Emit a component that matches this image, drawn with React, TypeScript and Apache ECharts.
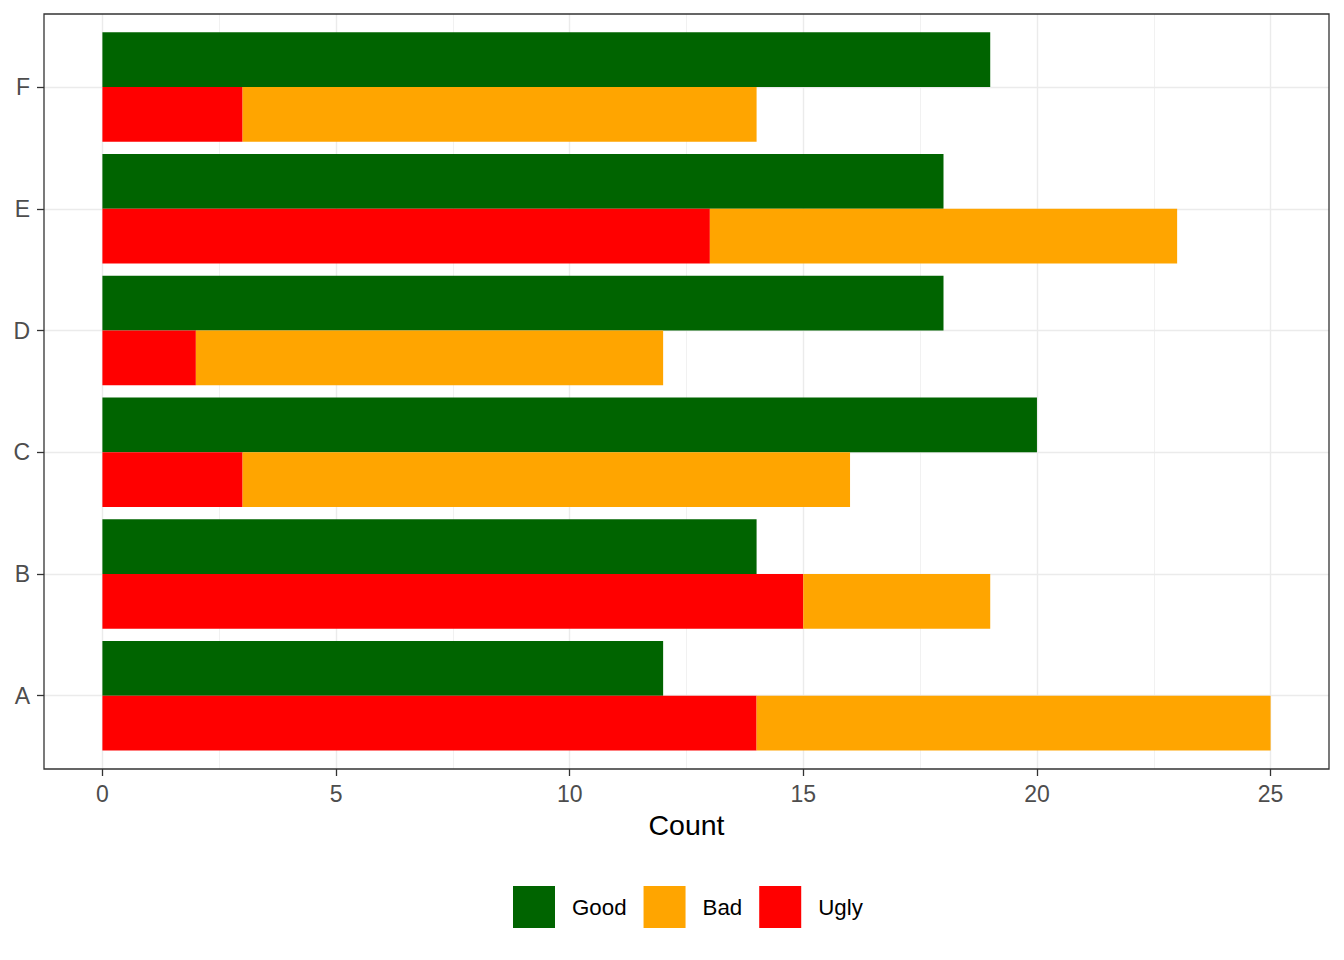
import React, { useEffect, useRef } from 'react';
import * as echarts from 'echarts';

const categories = ['A', 'B', 'C', 'D', 'E', 'F'];
const goodValues = [12, 14, 20, 18, 18, 19];
const uglyValues = [14, 15, 3, 2, 13, 3];
const badValues = [11, 4, 13, 10, 10, 11];
const majorTicks = [0, 5, 10, 15, 20, 25];
const minorTicks = [2.5, 7.5, 12.5, 17.5, 22.5];
const legendOrder = ['Good', 'Bad', 'Ugly'];

const FONT = '"Liberation Sans", Arial, Helvetica, sans-serif';
const X_MIN = -1.25;
const X_MAX = 26.25;

export default function App() {
  const ref = useRef<HTMLDivElement>(null);

  useEffect(() => {
    document.body.style.margin = '0';
    document.body.style.overflow = 'hidden';
    if (!ref.current) return;
    const chart = echarts.init(ref.current, null, { renderer: 'svg' });

    const tickLine = { color: '#333333', width: 1.3 };

    chart.setOption({
      animation: false,
      backgroundColor: '#ffffff',
      textStyle: { fontFamily: FONT },
      grid: [
        { left: 44, right: 15, top: 14, bottom: 191, containLabel: false },
        { left: 44, right: 15, top: 26.2, bottom: 203.4, containLabel: false },
      ],
      xAxis: [
        {
          type: 'value',
          gridIndex: 0,
          min: X_MIN,
          max: X_MAX,
          splitLine: { show: false },
          axisLine: { show: false, onZero: false },
          axisTick: { show: true, customValues: majorTicks, length: 7, lineStyle: tickLine },
          axisLabel: {
            customValues: majorTicks,
            fontSize: 23,
            color: '#4d4d4d',
            margin: 13,
            fontFamily: FONT,
          },
          name: 'Count',
          nameLocation: 'middle',
          nameGap: 41,
          nameTextStyle: { fontSize: 28.5, color: '#000000', fontFamily: FONT },
        },
        {
          type: 'value',
          gridIndex: 1,
          min: X_MIN,
          max: X_MAX,
          show: false,
          axisLine: { onZero: false },
          splitLine: { show: false },
        },
      ],
      yAxis: [
        {
          type: 'value',
          gridIndex: 0,
          min: 0,
          max: 1,
          show: false,
          axisLine: { onZero: false },
          splitLine: { show: false },
        },
        {
          type: 'category',
          gridIndex: 1,
          data: categories,
          axisLine: { show: false, onZero: false },
          axisTick: { show: true, alignWithLabel: true, length: 7, lineStyle: tickLine },
          axisLabel: { fontSize: 23, color: '#4d4d4d', margin: 14, fontFamily: FONT },
          splitLine: { show: false },
        },
      ],
      legend: {
        data: legendOrder,
        left: 513,
        top: 886,
        padding: 0,
        orient: 'horizontal',
        itemWidth: 42,
        itemHeight: 42,
        itemGap: 17,
        icon: 'rect',
        selectedMode: false,
        textStyle: { fontSize: 22.3, color: '#000000', fontFamily: FONT, padding: [0, 0, 0, 12] },
      },
      graphic: [
        {
          type: 'rect',
          z: 100,
          silent: true,
          shape: { x: 44, y: 14, width: 1285, height: 755 },
          style: { fill: 'none', stroke: '#333333', lineWidth: 1.3 },
        },
      ],
      series: [
        {
          type: 'line',
          xAxisIndex: 0,
          yAxisIndex: 0,
          data: [],
          silent: true,
          z: 0,
          markLine: {
            z: 0,
            silent: true,
            symbol: ['none', 'none'],
            label: { show: false },
            lineStyle: { color: '#ebebeb', type: 'solid', width: 1.4 },
            data: [
              ...minorTicks.map((v) => ({ xAxis: v, lineStyle: { color: '#ebebeb', type: 'solid', width: 0.7 } })),
              ...majorTicks.map((v) => ({ xAxis: v })),
            ],
          },
        },
        {
          type: 'line',
          xAxisIndex: 1,
          yAxisIndex: 1,
          data: [],
          silent: true,
          z: 0,
          markLine: {
            z: 0,
            silent: true,
            symbol: ['none', 'none'],
            label: { show: false },
            lineStyle: { color: '#ebebeb', type: 'solid', width: 1.4 },
            data: categories.map((c) => ({ yAxis: c })),
          },
        },
        {
          name: 'Good',
          type: 'bar',
          xAxisIndex: 1,
          yAxisIndex: 1,
          stack: 'good',
          data: goodValues,
          barGap: '0%',
          barCategoryGap: '10%',
          itemStyle: { color: '#006400' },
          z: 2,
        },
        {
          name: 'Ugly',
          type: 'bar',
          xAxisIndex: 1,
          yAxisIndex: 1,
          stack: 'rest',
          data: uglyValues,
          barGap: '0%',
          barCategoryGap: '10%',
          itemStyle: { color: '#ff0000' },
          z: 2,
        },
        {
          name: 'Bad',
          type: 'bar',
          xAxisIndex: 1,
          yAxisIndex: 1,
          stack: 'rest',
          data: badValues,
          barGap: '0%',
          barCategoryGap: '10%',
          itemStyle: { color: '#ffa500' },
          z: 2,
        },
      ],
    });

    return () => {
      chart.dispose();
    };
  }, []);

  return <div ref={ref} style={{ width: 1344, height: 960 }} />;
}
